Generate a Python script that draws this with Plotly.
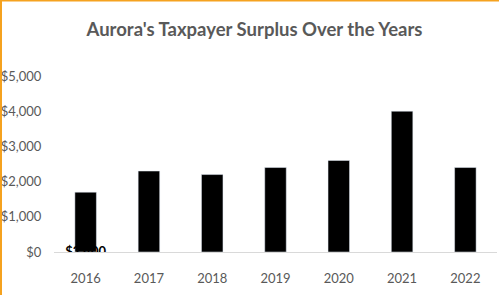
import plotly.graph_objects as go

years = ["2016", "2017", "2018", "2019", "2020", "2021", "2022"]
surplus = [1700, 2300, 2200, 2400, 2600, 4000, 2400]
y_ticks = [0, 1000, 2000, 3000, 4000, 5000]
y_tick_labels = ["$" + f"{v:,}" for v in y_ticks]
callout_label = "$" + f"{surplus[-1]:,}"

W, H = 499, 295
ML, MR, MT, MB = 54, 2, 76, 43
pw, ph = W - ML - MR, H - MT - MB

FONT = "Lato, sans-serif"
GRAY = "#595959"
ORANGE = "#F5A21F"

fig = go.Figure(go.Bar(x=years, y=surplus, marker_color="black", hoverinfo="skip"))

fig.update_layout(
    width=W, height=H,
    margin=dict(l=ML, r=MR, t=MT, b=MB, autoexpand=False),
    paper_bgcolor="white", plot_bgcolor="white",
    bargap=0.66,
    showlegend=False,
    font=dict(family=FONT, color=GRAY),
    title=dict(text="<b>Aurora's Taxpayer Surplus Over the Years</b>",
               x=254.5 / W, xanchor="center", xref="container",
               y=1 - 30 / H, yanchor="middle", yref="container",
               font=dict(family=FONT, size=18.5, color=GRAY)),
    xaxis=dict(type="category", categoryarray=years, categoryorder="array",
               range=[-0.5, len(years) - 0.5], autorange=False, automargin=False,
               showline=True, linecolor="#d9d9d9", linewidth=1,
               showgrid=False, ticks="outside", ticklen=14, tickcolor="rgba(0,0,0,0)",
               tickfont=dict(family=FONT, size=13, color=GRAY)),
    yaxis=dict(range=[0, 5000], autorange=False, tickvals=y_ticks, ticktext=y_tick_labels,
               automargin=False,
               showgrid=False, zeroline=False, showline=False,
               ticks="outside", ticklen=9, tickcolor="rgba(0,0,0,0)",
               tickfont=dict(family=FONT, size=13, color=GRAY)),
    shapes=[
        # callout box with the last value, anchored on the 2022 bar top
        dict(type="rect", xref="x", yref="y",
             xsizemode="pixel", ysizemode="pixel",
             xanchor=years[-1], yanchor=surplus[-1],
             x0=-22.5, x1=22.5, y0=6, y1=38,
             fillcolor="white", line=dict(color="black", width=1), layer="above",
             label=dict(text="<b>" + callout_label + "</b>",
                        textposition="middle center",
                        font=dict(family=FONT, size=13, color="black"))),
        # orange frame (left and top edges)
        dict(type="rect", xref="paper", yref="paper",
             x0=-ML / pw, x1=(-ML + 2) / pw, y0=-MB / ph, y1=(ph + MT) / ph,
             fillcolor=ORANGE, line=dict(width=0), layer="above"),
        dict(type="rect", xref="paper", yref="paper",
             x0=-ML / pw, x1=(pw + MR) / pw, y0=(ph + MT - 1.5) / ph, y1=(ph + MT) / ph,
             fillcolor=ORANGE, line=dict(width=0), layer="above"),
    ],
)

fig.write_html("out.html", config={"displayModeBar": False},
               post_script="document.body.style.margin='0';")
